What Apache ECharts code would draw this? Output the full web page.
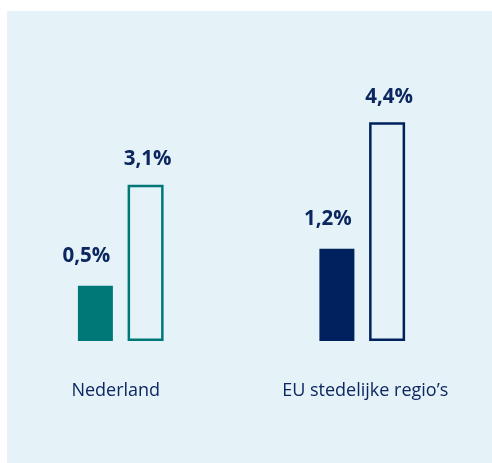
<!DOCTYPE html>
<html>
<head>
<meta charset="utf-8">
<script src="https://cdn.jsdelivr.net/npm/echarts@6/dist/echarts.min.js"></script>
<style>
  html, body { margin: 0; padding: 0; background: #fff; }
  #chart { width: 492px; height: 463px; }
</style>
</head>
<body>
<div id="chart"></div>
<script>
const categories = ['Nederland', 'EU stedelijke regio\u2019s']
const filledValues = [0.5, 1.2]
const outlineValues = [3.1, 4.4]
const groupColors = ['#007878', '#01215e']

const panelColor = '#e5f3f9'
const textColor = '#0c2660'

const chart = echarts.init(document.getElementById('chart'))

// 0,5% style
const pct = v => String(v).replace('.', ',') + '%'

const valueLabel = {
  show: true,
  position: 'top',
  color: textColor,
  fontFamily: 'Open Sans',
  fontWeight: 'bold',
  fontSize: 20.5,
  formatter: p => pct(p.value)
}

let option = {
  backgroundColor: '#fff',
  animation: false,
  graphic: [
    {
      type: 'rect',
      z: -10,
      shape: { x: 7, y: 11, width: 485, height: 452 },
      style: { fill: panelColor }
    }
  ],
  grid: { left: -3, right: 9, top: 60, bottom: 122 },
  xAxis: {
    type: 'category',
    data: categories,
    axisLine: { show: false },
    axisTick: { show: false },
    axisLabel: {
      interval: 0,
      margin: 41,
      color: textColor,
      fontFamily: 'Open Sans',
      fontSize: 18,
      formatter: (v, i) => i === 0 ? '{a|' + v + '}' : '{b|' + v + '}',
      rich: {
        a: { color: textColor, fontFamily: 'Open Sans', fontSize: 18, padding: [0, 10, 0, 0] },
        b: { color: textColor, fontFamily: 'Open Sans', fontSize: 18, padding: [0, 0, 0, 6] }
      }
    }
  },
  // the two bar sets are not drawn on a shared scale in the original
  yAxis: [
    { type: 'value', show: false, min: -0.546, max: 4.776, startValue: -0.546, splitLine: { show: false } },
    { type: 'value', show: false, min: -0.155, max: 5.696, startValue: -0.155, splitLine: { show: false } }
  ],
  series: [
    {
      type: 'bar',
      yAxisIndex: 0,
      barWidth: 35,
      barGap: '42%',
      data: filledValues.map((v, i) => ({ value: v, itemStyle: { color: groupColors[i] } })),
      label: Object.assign({}, valueLabel, { distance: 19, offset: [-9, 0] })
    },
    {
      type: 'bar',
      yAxisIndex: 1,
      barWidth: 36,
      data: outlineValues.map((v, i) => ({
        value: v,
        itemStyle: { color: panelColor, borderColor: groupColors[i], borderWidth: 2.5 }
      })),
      label: Object.assign({}, valueLabel, { distance: 15, offset: [2, 0] })
    }
  ]
}

chart.setOption(option)
</script>
</body>
</html>
